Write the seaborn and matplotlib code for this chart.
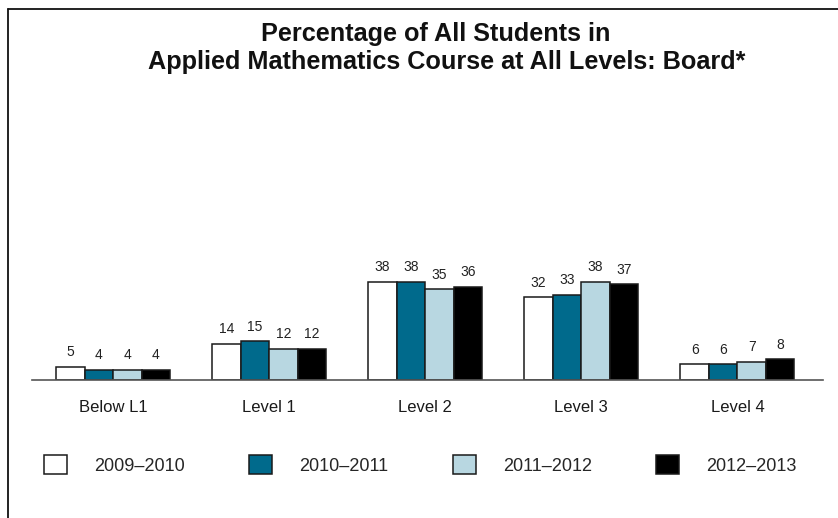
import matplotlib
matplotlib.use("Agg")
import matplotlib.pyplot as plt
from matplotlib.patches import Patch
from matplotlib.lines import Line2D
import pandas as pd
import seaborn as sns

levels = ["Below L1", "Level 1", "Level 2", "Level 3", "Level 4"]
years = ["2009\u20132010", "2010\u20132011", "2011\u20132012", "2012\u20132013"]
pct_2009_2010 = [5, 14, 38, 32, 6]
pct_2010_2011 = [4, 15, 38, 33, 6]
pct_2011_2012 = [4, 12, 35, 38, 7]
pct_2012_2013 = [4, 12, 36, 37, 8]
title_lines = ["Percentage of All Students in",
               "Applied Mathematics Course at All Levels: Board*"]

year_colors = ["#ffffff", "#006a8c", "#b8d7e1", "#000000"]

series = [pct_2009_2010, pct_2010_2011, pct_2011_2012, pct_2012_2013]
df = pd.DataFrame(
    [(lvl, yr, val) for yr, vals in zip(years, series) for lvl, val in zip(levels, vals)],
    columns=["level", "year", "pct"],
)

sns.set_theme(style="white")
plt.rcParams["font.family"] = ["Liberation Sans", "DejaVu Sans"]

W, H = 838, 518
fig = plt.figure(figsize=(W / 100, H / 100), dpi=100)
ax = fig.add_axes([32 / W, 1 - 380 / H, (823 - 32) / W, 258.7 / H])

sns.barplot(
    data=df, x="level", y="pct", hue="year", order=levels, hue_order=years,
    palette=year_colors, width=0.73, gap=0, dodge=True, legend=False,
    edgecolor="#1a1a1a", linewidth=1.1, saturation=1, ax=ax,
)

for cont in ax.containers:
    ax.bar_label(cont, fmt="%d", padding=5.5, fontsize=10, color="#222222")

ax.set_xlim(-0.519, 4.548)
ax.set_ylim(0, 100)
ax.set_xlabel("")
ax.set_ylabel("")
ax.set_yticks([])
ax.tick_params(axis="x", length=0, pad=14.5, labelsize=12, labelcolor="#1a1a1a")
for side in ["top", "left", "right"]:
    ax.spines[side].set_visible(False)
ax.spines["bottom"].set_color("#555555")
ax.spines["bottom"].set_linewidth(1.2)
ax.set_facecolor("white")

# Two-line bold title
fig.text(436 / W, 1 - 34 / H, title_lines[0], ha="center", va="center",
         fontsize=18.2, fontweight="bold", color="#111111")
fig.text(447 / W, 1 - 62 / H, title_lines[1], ha="center", va="center",
         fontsize=18.2, fontweight="bold", color="#111111")

# Legend row beneath the categories
handles = [Patch(facecolor=c, edgecolor="#1a1a1a", linewidth=1.1) for c in year_colors]
fig.legend(
    handles, years, loc="center left", bbox_to_anchor=(44 / W, 1 - 465 / H),
    ncol=4, frameon=False, fontsize=13, handlelength=1.27, handleheight=1.27,
    handletextpad=1.5, columnspacing=3.57, borderpad=0, borderaxespad=0,
)

# Frame edges on the top and left of the figure
fig.add_artist(Line2D([8 / W, 1], [1 - 9 / H, 1 - 9 / H], color="#111111", linewidth=1.3,
                      transform=fig.transFigure))
fig.add_artist(Line2D([8 / W, 8 / W], [0, 1 - 9 / H], color="#111111", linewidth=1.3,
                      transform=fig.transFigure))

fig.savefig("out.png", dpi=100, facecolor="white")
